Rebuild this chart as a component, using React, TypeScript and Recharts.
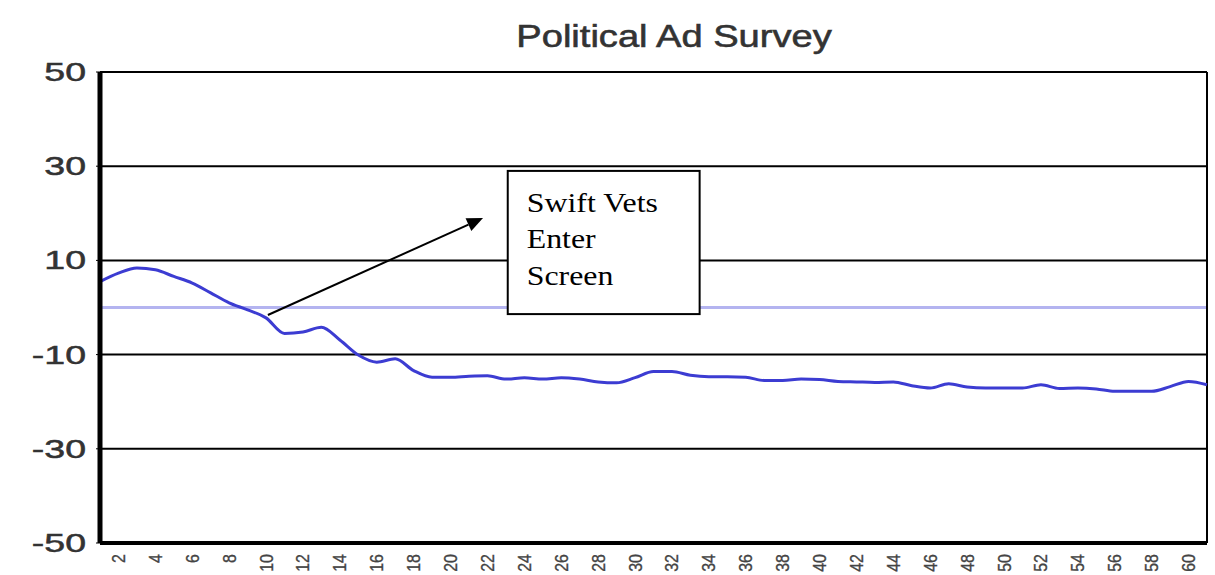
import React from 'react';
import {
  LineChart, Line, XAxis, YAxis, CartesianGrid, ReferenceLine, ReferenceArea
} from 'recharts';

// survey day numbers (x categories)
const days = [
  1, 2, 3, 4, 5, 6, 7, 8, 9, 10, 11, 12, 13, 14, 15, 16, 17, 18, 19, 20,
  21, 22, 23, 24, 25, 26, 27, 28, 29, 30, 31, 32, 33, 34, 35, 36, 37, 38, 39, 40,
  41, 42, 43, 44, 45, 46, 47, 48, 49, 50, 51, 52, 53, 54, 55, 56, 57, 58, 59, 60, 61,
];

// net rating per day
const netRating = [
  5.5, 7.3, 8.4, 8.0, 6.6, 5.2, 3.1, 1.0, -0.5, -2.2,
  -5.5, -5.2, -4.2, -6.9, -10.1, -11.6, -10.9, -13.4, -14.8, -14.8,
  -14.6, -14.5, -15.2, -14.9, -15.2, -14.9, -15.2, -15.8, -16.0, -14.9,
  -13.6, -13.6, -14.4, -14.7, -14.7, -14.8, -15.5, -15.5, -15.2, -15.3,
  -15.7, -15.8, -15.9, -15.8, -16.6, -17.1, -16.2, -16.9, -17.1, -17.1,
  -17.1, -16.4, -17.2, -17.1, -17.3, -17.8, -17.8, -17.8, -16.8, -15.7,
  -16.4,
];

const xTicks = [
  2, 4, 6, 8, 10, 12, 14, 16, 18, 20, 22, 24, 26, 28, 30,
  32, 34, 36, 38, 40, 42, 44, 46, 48, 50, 52, 54, 56, 58, 60,
];
const yTicks = [-50, -30, -10, 10, 30, 50];

const noteLines = ['Swift Vets', 'Enter', 'Screen'];

const data = days.map((d, i) => ({ day: d, net: netRating[i] }));

const YTick = ({ x, y, payload }: any) => (
  <g transform={`translate(${x - 8},${y}) scale(1.5,1)`}>
    <text textAnchor="end" dy="0.36em" fontSize={25} fill="#333" stroke="#333" strokeWidth={0.5}
      fontFamily="'Liberation Sans', Arial, sans-serif">
      {payload.value}
    </text>
  </g>
);

const XTick = ({ x, y, payload }: any) => (
  <g transform={`translate(${x},${y + 3}) rotate(-90) scale(1,1.15)`}>
    <text textAnchor="end" dy="0.35em" fontSize={16} fill="#444" stroke="#444" strokeWidth={0.3}
      fontFamily="'Liberation Sans', Arial, sans-serif">
      {payload.value}
    </text>
  </g>
);

// arrow pointing at the annotation box
const Arrow = (props: any) => {
  const { x1, y1, x2, y2 } = props;
  const ang = Math.atan2(y2 - y1, x2 - x1);
  const len = 16;
  const half = 7;
  const bx = x2 - len * Math.cos(ang);
  const by = y2 - len * Math.sin(ang);
  const px = -Math.sin(ang) * half;
  const py = Math.cos(ang) * half;
  return (
    <g>
      <line x1={x1} y1={y1} x2={bx} y2={by} stroke="#000" strokeWidth={2} />
      <polygon points={`${x2},${y2} ${bx + px},${by + py} ${bx - px},${by - py}`} fill="#000" />
    </g>
  );
};

const NoteBox = (props: any) => {
  const { x, y, width, height } = props;
  return (
    <g>
      <rect x={x} y={y} width={width} height={height} fill="#fff" stroke="#000" strokeWidth={2} />
      {noteLines.map((t, i) => (
        <g key={t} transform={`translate(${x + 19},${y + 41 + i * 36.5}) scale(1.18,1)`}>
          <text fontSize={27} fill="#000" fontFamily="'Liberation Serif', 'Times New Roman', serif">{t}</text>
        </g>
      ))}
    </g>
  );
};

export default function App() {
  return (
    <div style={{ position: 'relative', width: 1215, height: 575, background: '#fff' }}>
      <style>{'body{margin:0}'}</style>
      <div
        style={{
          position: 'absolute', top: 20, left: 674, whiteSpace: 'nowrap',
          transform: 'translateX(-50%) scaleX(1.19)',
          fontFamily: "'Liberation Sans', Arial, sans-serif", fontSize: 32, lineHeight: '32px',
          color: '#333', WebkitTextStroke: '0.6px #333',
        }}
      >
        Political Ad Survey
      </div>
      <LineChart width={1215} height={575} data={data}
        margin={{ top: 72, right: 8, bottom: 0, left: 0 }}>
        <CartesianGrid vertical={false} stroke="#000" strokeWidth={2} />
        <ReferenceLine y={0} stroke="#b4b4f0" strokeWidth={3} />
        <ReferenceLine x={61} stroke="#000" strokeWidth={2} />
        <XAxis dataKey="day" type="number" domain={[1, 61]} ticks={xTicks}
          axisLine={{ stroke: '#000', strokeWidth: 4 }} tickLine={false}
          tick={<XTick />} height={32} interval={0} />
        <YAxis type="number" domain={[-50, 50]} ticks={yTicks} width={100}
          axisLine={{ stroke: '#000', strokeWidth: 5 }}
          tickLine={{ stroke: '#000', strokeWidth: 1 }} tickSize={4}
          tick={<YTick />} interval={0} />
        <Line dataKey="net" type="monotone" stroke="#3c3cd2" strokeWidth={3}
          dot={false} isAnimationActive={false} />
        <ReferenceLine segment={[{ x: 10.1, y: -1.6 }, { x: 21.76, y: 19.0 }]}
          shape={<Arrow />} ifOverflow="visible" />
        <ReferenceArea x1={23.1} x2={33.5} y1={29.0} y2={-1.4} shape={<NoteBox />}
          ifOverflow="visible" zIndex={900} />
      </LineChart>
    </div>
  );
}
